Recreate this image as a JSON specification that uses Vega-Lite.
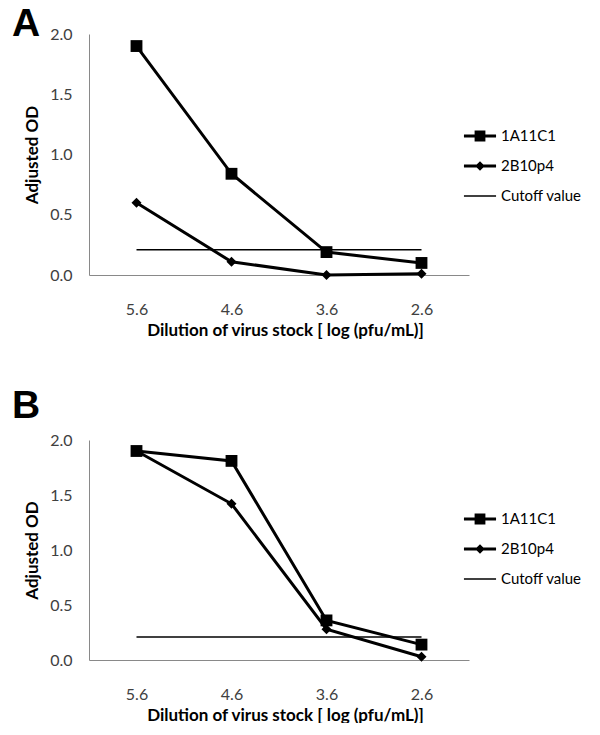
{
  "$schema": "https://vega.github.io/schema/vega-lite/v6.json",
  "padding": {"left": 12, "top": 5, "right": 0, "bottom": 0},
  "background": "white",
  "config": {
    "view": {"stroke": null},
    "axis": {"domainColor": "#898989", "domainWidth": 1, "ticks": false, "tickSize": 0, "grid": false, "labelFont": "Lato", "labelFontSize": 16, "labelColor": "#404040", "titleFont": "Lato", "titleFontSize": 17, "titleFontWeight": "bold", "titleColor": "black"},
    "axisX": {"labelPadding": 26, "titlePadding": 5, "labelAngle": 0, "titleX": 196},
    "axisY": {"labelPadding": 17, "titlePadding": 8},
    "legend": {"symbolSize": 900, "labelOffset": 6, "labelFontSize": 15, "labelFont": "Lato", "labelColor": "black", "rowPadding": 7, "padding": 0, "symbolStrokeWidth": 0, "symbolFillColor": "black", "symbolOpacity": 1},
    "title": {"font": "Liberation Sans", "fontSize": 39, "fontWeight": "bold", "anchor": "start", "frame": "group", "color": "black"}
  },
  "datasets": {
    "d": [
      {"panel": "A", "series": "1A11C1", "dilution": "5.6", "od": 1.9},
      {"panel": "A", "series": "1A11C1", "dilution": "4.6", "od": 0.84},
      {"panel": "A", "series": "1A11C1", "dilution": "3.6", "od": 0.19},
      {"panel": "A", "series": "1A11C1", "dilution": "2.6", "od": 0.1},
      {"panel": "A", "series": "2B10p4", "dilution": "5.6", "od": 0.6},
      {"panel": "A", "series": "2B10p4", "dilution": "4.6", "od": 0.11},
      {"panel": "A", "series": "2B10p4", "dilution": "3.6", "od": 0.0},
      {"panel": "A", "series": "2B10p4", "dilution": "2.6", "od": 0.01},
      {"panel": "A", "series": "Cutoff value", "dilution": "5.6", "od": 0.21},
      {"panel": "A", "series": "Cutoff value", "dilution": "2.6", "od": 0.21},
      {"panel": "B", "series": "1A11C1", "dilution": "5.6", "od": 1.9},
      {"panel": "B", "series": "1A11C1", "dilution": "4.6", "od": 1.81},
      {"panel": "B", "series": "1A11C1", "dilution": "3.6", "od": 0.36},
      {"panel": "B", "series": "1A11C1", "dilution": "2.6", "od": 0.14},
      {"panel": "B", "series": "2B10p4", "dilution": "5.6", "od": 1.9},
      {"panel": "B", "series": "2B10p4", "dilution": "4.6", "od": 1.42},
      {"panel": "B", "series": "2B10p4", "dilution": "3.6", "od": 0.28},
      {"panel": "B", "series": "2B10p4", "dilution": "2.6", "od": 0.03},
      {"panel": "B", "series": "Cutoff value", "dilution": "5.6", "od": 0.21},
      {"panel": "B", "series": "Cutoff value", "dilution": "2.6", "od": 0.21}
    ]
  },
  "spacing": 49,
  "resolve": {"scale": {"shape": "independent"}, "legend": {"shape": "independent"}},
  "vconcat": [
    {
      "title": {"text": "A", "dx": -77, "dy": 46, "baseline": "alphabetic", "offset": -3},
      "width": 380,
      "height": 241,
      "data": {"name": "d"},
      "transform": [{"filter": "datum.panel === 'A'"}],
      "encoding": {
        "x": {"field": "dilution", "type": "ordinal", "scale": {"type": "point", "domain": ["5.6", "4.6", "3.6", "2.6"], "padding": 0.5}, "axis": {"title": "Dilution of virus stock [ log (pfu/mL)]"}},
        "y": {"field": "od", "type": "quantitative", "scale": {"domain": [0, 2]}, "axis": {"values": [0, 0.5, 1, 1.5, 2], "format": ".1f", "title": "Adjusted OD"}}
      },
      "layer": [
        {"transform": [{"filter": "datum.series !== 'Cutoff value'"}], "mark": {"type": "line", "color": "black", "strokeWidth": 3}, "encoding": {"detail": {"field": "series"}}},
        {"transform": [{"filter": "datum.series === 'Cutoff value'"}], "mark": {"type": "line", "color": "black", "strokeWidth": 1.5}, "encoding": {}},
        {"transform": [{"filter": "datum.series !== 'Cutoff value'"}], "mark": {"type": "point", "filled": true, "color": "black", "opacity": 1, "strokeWidth": 0},
          "encoding": {"shape": {"condition": {"test": "datum.series === '1A11C1'", "value": "square"}, "value": "diamond"}, "size": {"condition": {"test": "datum.series === '1A11C1'", "value": 140}, "value": 100}}},
        {"transform": [{"filter": "false"}], "mark": {"type": "point", "filled": true, "color": "black", "opacity": 1, "strokeWidth": 0},
          "encoding": {"shape": {"field": "series", "type": "nominal",
            "scale": {"domain": ["1A11C1", "2B10p4", "Cutoff value"], "range": ["M-1.07,-0.1H1.07V0.1H-1.07Z M-0.36,-0.36H0.36V0.36H-0.36Z", "M-1.07,-0.1H1.07V0.1H-1.07Z M0,-0.32L0.32,0L0,0.32L-0.32,0Z", "M-1.07,-0.045H1.07V0.045H-1.07Z"]},
            "legend": {"title": null, "orient": "none", "legendX": 376, "legendY": 87}}}}
      ]
    },
    {
      "title": {"text": "B", "dx": -77, "dy": 22, "baseline": "alphabetic", "offset": -3},
      "width": 380,
      "height": 220,
      "data": {"name": "d"},
      "transform": [{"filter": "datum.panel === 'B'"}],
      "encoding": {
        "x": {"field": "dilution", "type": "ordinal", "scale": {"type": "point", "domain": ["5.6", "4.6", "3.6", "2.6"], "padding": 0.5}, "axis": {"title": "Dilution of virus stock [ log (pfu/mL)]"}},
        "y": {"field": "od", "type": "quantitative", "scale": {"domain": [0, 2]}, "axis": {"values": [0, 0.5, 1, 1.5, 2], "format": ".1f", "title": "Adjusted OD"}}
      },
      "layer": [
        {"transform": [{"filter": "datum.series !== 'Cutoff value'"}], "mark": {"type": "line", "color": "black", "strokeWidth": 3}, "encoding": {"detail": {"field": "series"}}},
        {"transform": [{"filter": "datum.series === 'Cutoff value'"}], "mark": {"type": "line", "color": "black", "strokeWidth": 1.5}, "encoding": {}},
        {"transform": [{"filter": "datum.series !== 'Cutoff value'"}], "mark": {"type": "point", "filled": true, "color": "black", "opacity": 1, "strokeWidth": 0},
          "encoding": {"shape": {"condition": {"test": "datum.series === '1A11C1'", "value": "square"}, "value": "diamond"}, "size": {"condition": {"test": "datum.series === '1A11C1'", "value": 140}, "value": 100}}},
        {"transform": [{"filter": "false"}], "mark": {"type": "point", "filled": true, "color": "black", "opacity": 1, "strokeWidth": 0},
          "encoding": {"shape": {"field": "series", "type": "nominal",
            "scale": {"domain": ["1A11C1", "2B10p4", "Cutoff value"], "range": ["M-1.07,-0.1H1.07V0.1H-1.07Z M-0.36,-0.36H0.36V0.36H-0.36Z", "M-1.07,-0.1H1.07V0.1H-1.07Z M0,-0.32L0.32,0L0,0.32L-0.32,0Z", "M-1.07,-0.045H1.07V0.045H-1.07Z"]},
            "legend": {"title": null, "orient": "none", "legendX": 376, "legendY": 64}}}}
      ]
    }
  ]
}
